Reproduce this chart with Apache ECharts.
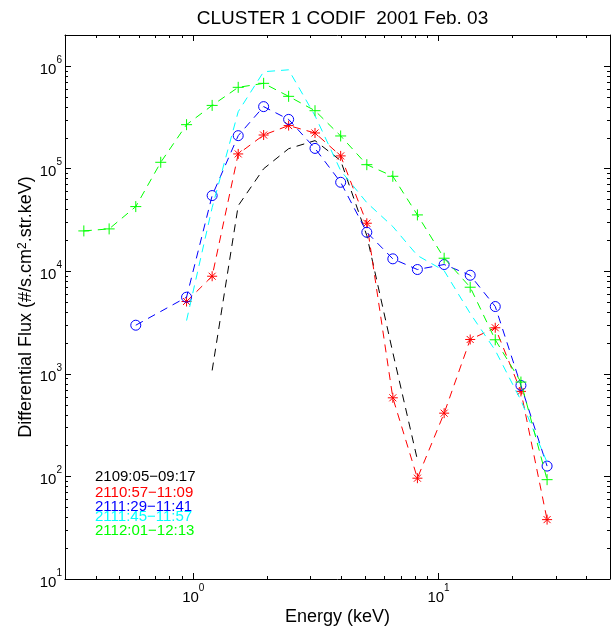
<!DOCTYPE html>
<html><head><meta charset="utf-8">
<script src="https://cdn.jsdelivr.net/npm/echarts@6/dist/echarts.min.js"></script>
<style>html,body{margin:0;padding:0;background:#fff}#c{width:611px;height:630px}</style>
</head><body><div id="c"></div>
<script>
// ---- data ----
const energies   = [0.358, 0.454, 0.583, 0.737, 0.939, 1.194, 1.525, 1.936, 2.448, 3.136, 3.99, 5.10, 6.51, 8.20, 10.54, 13.46, 17.03, 21.67, 27.7];
const fluxBlack  = [null, null, null, null, null, 1077, 43400, 99500, 156000, 187000, 119400, 22200, 1610, 145, null, null, null, null, null];
const fluxRed    = [null, null, null, null, 5060, 8920, 138700, 212000, 262000, 222000, 132700, 29300, 583, 96, 413, 2158, 2806, 673, 37.9];
const fluxBlue   = [null, null, 2972, null, 5570, 54500, 209000, 401000, 301000, 157000, 73400, 23900, 13180, 10370, 11600, 9120, 4520, 769, 126];
const fluxCyan   = [null, null, null, null, 3300, 41600, 358000, 877000, 916000, 327000, 95400, 46500, 27200, 14200, 10100, 3870, 1690, 550, 137];
const fluxGreen  = [24660, 25800, 42560, 115000, 267500, 412000, 618000, 676000, 505000, 366000, 207600, 109000, 84000, 35300, 13360, 6970, 2143, 830, 92.9];
const seriesNames = ['2109:05\u221209:17', '2110:57\u221211:09', '2111:29\u221211:41', '2111:45\u221211:57', '2112:01\u221212:13'];
const titleText = 'CLUSTER 1 CODIF  2001 Feb. 03';
const xRange = [0.3, 50];
const yRange = [10, 2e6];

// ---- styling ----
const FONT = "'Liberation Sans', Arial, Helvetica, sans-serif";
const colors = ['#000000', '#ff0000', '#0000ff', '#00ffff', '#00ff00'];
const DASH = [8, 6];
const SYM_STAR = 'path://M5,0L5,10M0,5L10,5M1.5,1.5L8.5,8.5M1.5,8.5L8.5,1.5';
const SYM_PLUS = 'path://M5,0L5,10M0,5L10,5';

function pairs(arr) {
  const out = [];
  arr.forEach((v, i) => { if (v != null) out.push([energies[i], v]); });
  return out;
}

function powLabel(v) {
  const l = Math.log10(v);
  if (Math.abs(l - Math.round(l)) > 1e-6) return '';
  return '{b|10}{s|' + Math.round(l) + '}';
}
const labelRich = {
  b: { fontSize: 15, fontFamily: FONT, color: '#000', lineHeight: 22, verticalAlign: 'bottom' },
  s: { fontSize: 10, fontFamily: FONT, color: '#000', lineHeight: 8, verticalAlign: 'top' }
};

const fluxes = [fluxBlack, fluxRed, fluxBlue, fluxCyan, fluxGreen];
const symbols = ['none', SYM_STAR, 'circle', 'none', SYM_PLUS];
const symSizes = [0, 10, 10, 0, 11];

const series = fluxes.map((f, i) => ({
  name: seriesNames[i],
  type: 'line',
  data: pairs(f),
  symbol: symbols[i],
  symbolSize: symSizes[i],
  showSymbol: symbols[i] !== 'none',
  symbolKeepAspect: true,
  lineStyle: { color: colors[i], width: 1, type: DASH },
  itemStyle: { color: 'rgba(0,0,0,0)', borderColor: colors[i], borderWidth: 1 },
  emphasis: { disabled: true },
  z: 2 + i
}));

const axisCommon = {
  type: 'log', logBase: 10,
  axisLine: { show: true, lineStyle: { color: '#000', width: 1 } },
  axisTick: { show: true, inside: true, length: 6, lineStyle: { color: '#000' } },
  splitLine: { show: false },
  minorTick: { show: false }
};

const chart = echarts.init(document.getElementById('c'), null, { renderer: 'canvas' });
const option = {
  animation: false,
  backgroundColor: '#fff',
  title: {
    text: titleText, left: 337.5, textAlign: 'center', top: 4,
    textStyle: { fontFamily: FONT, fontSize: 19, fontWeight: 'normal', color: '#000' }
  },
  grid: { left: 65, right: 1, top: 35, bottom: 51, containLabel: false, outerBoundsMode: 'none' },
  xAxis: [
    Object.assign({}, axisCommon, {
      min: xRange[0], max: xRange[1], position: 'bottom',
      name: 'Energy (keV)', nameLocation: 'middle', nameGap: 29, nameMoveOverlap: false,
      nameTextStyle: { fontFamily: FONT, fontSize: 18, color: '#000' },
      axisLabel: { formatter: powLabel, rich: labelRich, margin: 4, color: '#000' }
    }),
    Object.assign({}, axisCommon, {
      min: xRange[0], max: xRange[1], position: 'top', axisLabel: { show: false }
    })
  ],
  yAxis: [
    Object.assign({}, axisCommon, {
      min: yRange[0], max: yRange[1], position: 'left',
      name: 'Differential Flux (#/s.cm{s|2}.str.keV)', nameLocation: 'middle', nameGap: 30, nameRotate: 90,
      nameMoveOverlap: false,
      nameTextStyle: { fontFamily: FONT, fontSize: 18, color: '#000',
        rich: { s: { fontSize: 12, fontFamily: FONT, color: '#000', verticalAlign: 'top', lineHeight: 10 } } },
      axisLabel: { formatter: powLabel, rich: labelRich, margin: 3, color: '#000' }
    }),
    Object.assign({}, axisCommon, {
      min: yRange[0], max: yRange[1], position: 'right', axisLabel: { show: false }
    })
  ],
  series: series
};
chart.setOption(option);

// minor ticks (log 2..9) on all four sides, placed through the axes' own scales
const graphics = [];
const xb = chart.convertToPixel({ yAxisIndex: 0 }, yRange[0]);
const xt = chart.convertToPixel({ yAxisIndex: 0 }, yRange[1]);
const yl = chart.convertToPixel({ xAxisIndex: 0 }, xRange[0]);
const yr = chart.convertToPixel({ xAxisIndex: 0 }, xRange[1]);
const MINOR = 3;
for (let d = -1; d <= 1; d++) {
  for (let m = 2; m <= 9; m++) {
    const v = m * Math.pow(10, d);
    if (v <= xRange[0] || v >= xRange[1]) continue;
    const px = Math.round(chart.convertToPixel({ xAxisIndex: 0 }, v)) + 0.5;
    graphics.push({ type: 'line', silent: true, shape: { x1: px, y1: xb, x2: px, y2: xb - MINOR }, style: { stroke: '#000', lineWidth: 1 } });
    graphics.push({ type: 'line', silent: true, shape: { x1: px, y1: xt, x2: px, y2: xt + MINOR }, style: { stroke: '#000', lineWidth: 1 } });
  }
}
for (let d = 1; d <= 6; d++) {
  for (let m = 2; m <= 9; m++) {
    const v = m * Math.pow(10, d);
    if (v <= yRange[0] || v >= yRange[1]) continue;
    const py = Math.round(chart.convertToPixel({ yAxisIndex: 0 }, v)) + 0.5;
    graphics.push({ type: 'line', silent: true, shape: { x1: yl, y1: py, x2: yl + MINOR, y2: py }, style: { stroke: '#000', lineWidth: 1 } });
    graphics.push({ type: 'line', silent: true, shape: { x1: yr, y1: py, x2: yr - MINOR, y2: py }, style: { stroke: '#000', lineWidth: 1 } });
  }
}
// coloured series labels (annotation text inside the axes)
const legendY = [477, 492.5, 507, 516.5, 530.5];
seriesNames.forEach((n, i) => {
  graphics.push({ type: 'text', silent: true, x: 95, y: legendY[i], z: 20,
    style: { text: n, fill: colors[i], fontSize: 15, fontFamily: FONT, verticalAlign: 'middle', align: 'left' } });
});
chart.setOption({ graphic: graphics });
</script>
</body></html>
